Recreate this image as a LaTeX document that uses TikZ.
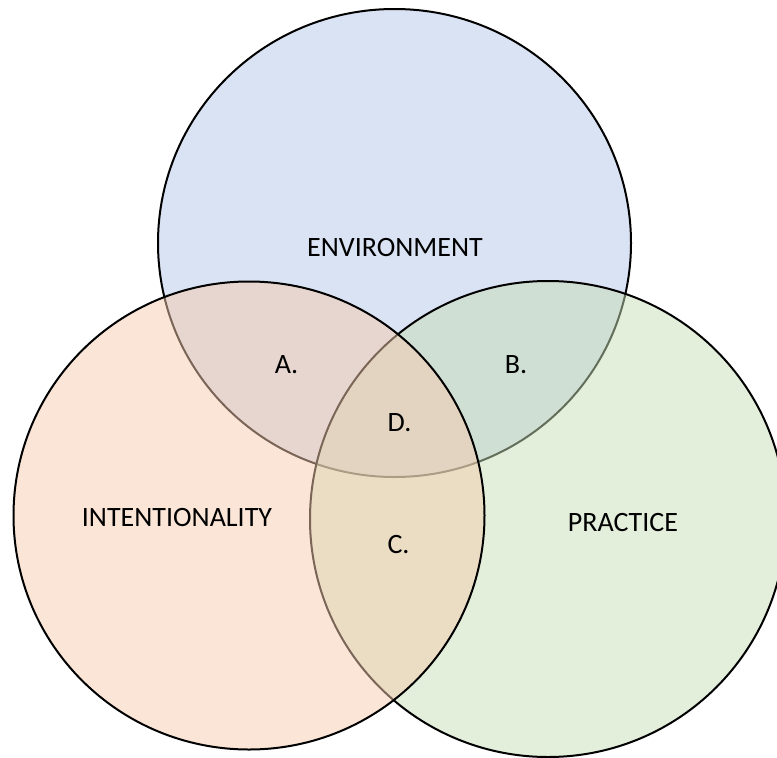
\documentclass[tikz,border=0pt]{standalone}
\usepackage{fontspec}
\setmainfont{Carlito}
\definecolor{envblue}{HTML}{DAE3F3}
\definecolor{pracgreen}{HTML}{C7DDB7}
\definecolor{intorange}{HTML}{F5CBAF}
\begin{document}
\begin{tikzpicture}[x=1pt,y=-1pt,
  ring/.style={draw=black,line width=2pt},
  label/.style={anchor=base,inner sep=0pt,font=\fontsize{28}{34}\selectfont,text=black}]
\useasboundingbox (0,0) rectangle (777,758);
\clip (0,0) rectangle (777,758);
% three overlapping sets: environment (opaque), practice and intentionality (half transparent)
\draw[ring,fill=envblue] (394.5,243) ellipse [x radius=236.5,y radius=234];
\draw[ring,fill=pracgreen,fill opacity=0.5] (548,519) circle [radius=238];
\draw[ring,fill=intorange,fill opacity=0.5] (249,515.5) ellipse [x radius=235.5,y radius=234];
% set names
\node[label] (env) at (395,256) {ENVIRONMENT};
\node[label] (intent) at (177,526.5) {INTENTIONALITY};
\node[label] (prac) at (623,531.5) {PRACTICE};
% intersection labels
\node[label] (a) at (286.5,373.5) {A.};
\node[label] (b) at (516,373.5) {B.};
\node[label] (d) at (399.5,431) {D.};
\node[label] (c) at (398.5,553) {C.};
\end{tikzpicture}
\end{document}
